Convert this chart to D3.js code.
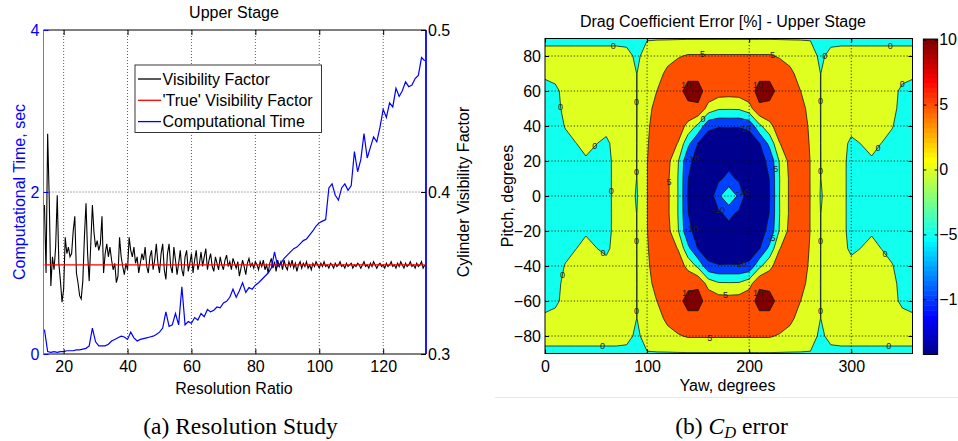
<!DOCTYPE html>
<html>
<head>
<meta charset="utf-8">
<script src="https://cdn.jsdelivr.net/npm/d3@7"></script>
<style>
  html, body { margin: 0; padding: 0; background: #fff; }
  svg { display: block; font-family: "Liberation Sans", Arial, sans-serif; }
</style>
</head>
<body>
<svg id="fig" width="958" height="441"></svg>
<script>
// ---------------- Resolution study data ----------------
// visibility factor is sampled every half step of the resolution ratio
const visibilityRatio = [
  14,14.5,15,15.5,16,16.5,17,17.5,18,18.5,
  19,19.5,20,20.5,21,21.5,22,22.5,23,23.5,
  24,24.5,25,25.5,26,26.5,27,27.5,28,28.5,
  29,29.5,30,30.5,31,31.5,32,32.5,33,33.5,
  34,34.5,35,35.5,36,36.5,37,37.5,38,38.5,
  39,39.5,40,40.5,41,41.5,42,42.5,43,43.5,
  44,44.5,45,45.5,46,46.5,47,47.5,48,48.5,
  49,49.5,50,50.5,51,51.5,52,52.5,53,53.5,
  54,54.5,55,55.5,56,56.5,57,57.5,58,58.5,
  59,59.5,60,60.5,61,61.5,62,62.5,63,63.5,
  64,64.5,65,65.5,66,66.5,67,67.5,68,68.5,
  69,69.5,70,70.5,71,71.5,72,72.5,73,73.5,
  74,74.5,75,75.5,76,76.5,77,77.5,78,78.5,
  79,79.5,80,80.5,81,81.5,82,82.5,83,83.5,
  84,84.5,85,85.5,86,86.5,87,87.5,88,88.5,
  89,89.5,90,90.5,91,91.5,92,92.5,93,93.5,
  94,94.5,95,95.5,96,96.5,97,97.5,98,98.5,
  99,99.5,100,100.5,101,101.5,102,102.5,103,103.5,
  104,104.5,105,105.5,106,106.5,107,107.5,108,108.5,
  109,109.5,110,110.5,111,111.5,112,112.5,113,113.5,
  114,114.5,115,115.5,116,116.5,117,117.5,118,118.5,
  119,119.5,120,120.5,121,121.5,122,122.5,123,123.5,
  124,124.5,125,125.5,126,126.5,127,127.5,128,128.5,
  129,129.5,130,130.5,131,131.5,132,132.5,133
];
const visibilityFactor = [
  0.392,0.350,0.436,0.395,0.342,0.360,0.352,0.366,0.398,0.356,
  0.345,0.332,0.340,0.372,0.362,0.366,0.360,0.362,0.376,0.385,
  0.350,0.344,0.336,0.334,0.345,0.372,0.393,0.362,0.345,0.368,
  0.392,0.375,0.366,0.370,0.364,0.368,0.385,0.350,0.362,0.368,
  0.360,0.366,0.358,0.352,0.356,0.344,0.348,0.372,0.360,0.354,
  0.349,0.356,0.352,0.372,0.364,0.360,0.366,0.356,0.360,0.350,
  0.356,0.362,0.358,0.366,0.354,0.350,0.360,0.364,0.352,0.358,
  0.368,0.356,0.350,0.362,0.368,0.352,0.346,0.362,0.368,0.354,
  0.350,0.366,0.358,0.349,0.356,0.364,0.352,0.348,0.360,0.364,
  0.351,0.356,0.362,0.350,0.358,0.364,0.352,0.356,0.363,0.354,
  0.360,0.365,0.352,0.358,0.362,0.354,0.351,0.360,0.356,0.352,
  0.360,0.355,0.352,0.358,0.361,0.354,0.357,0.352,0.359,0.356,
  0.353,0.357,0.348,0.353,0.358,0.354,0.349,0.356,0.359,0.354,
  0.356,0.353,0.357,0.355,0.352,0.357,0.354,0.358,0.352,0.355,
  0.350,0.356,0.359,0.353,0.357,0.351,0.358,0.354,0.357,0.352,
  0.358,0.354,0.352,0.357,0.354,0.358,0.353,0.356,0.351,0.355,
  0.357,0.353,0.356,0.354,0.357,0.353,0.355,0.352,0.356,0.354,
  0.357,0.355,0.353,0.356,0.354,0.357,0.354,0.355,0.353,0.356,
  0.355,0.353,0.356,0.354,0.355,0.357,0.354,0.355,0.353,0.356,
  0.354,0.355,0.356,0.353,0.355,0.354,0.356,0.355,0.353,0.355,
  0.357,0.354,0.355,0.353,0.356,0.354,0.357,0.355,0.353,0.355,
  0.356,0.354,0.355,0.353,0.356,0.354,0.355,0.357,0.354,0.355,
  0.353,0.356,0.354,0.357,0.355,0.353,0.356,0.354,0.355,0.357,
  0.354,0.355,0.353,0.356,0.354,0.355,0.357,0.353,0.355
];
// computational time is sampled every step of the resolution ratio
const timeRatio = [
  14,15,16,17,18,19,20,21,22,23,
  24,25,26,27,28,29,30,31,32,33,
  34,35,36,37,38,39,40,41,42,43,
  44,45,46,47,48,49,50,51,52,53,
  54,55,56,57,58,59,60,61,62,63,
  64,65,66,67,68,69,70,71,72,73,
  74,75,76,77,78,79,80,81,82,83,
  84,85,86,87,88,89,90,91,92,93,
  94,95,96,97,98,99,100,101,102,103,
  104,105,106,107,108,109,110,111,112,113,
  114,115,116,117,118,119,120,121,122,123,
  124,125,126,127,128,129,130,131,132,133
];
const computationalTime = [
  0.30,0.03,0.02,0.03,0.02,0.03,0.03,0.04,0.04,0.04,
  0.05,0.05,0.06,0.07,0.10,0.32,0.15,0.10,0.10,0.10,
  0.12,0.16,0.18,0.20,0.22,0.21,0.18,0.27,0.20,0.16,
  0.18,0.19,0.20,0.21,0.22,0.24,0.27,0.32,0.52,0.34,
  0.36,0.50,0.36,0.83,0.36,0.40,0.38,0.45,0.42,0.50,
  0.46,0.55,0.52,0.54,0.58,0.57,0.63,0.65,0.70,0.80,
  0.70,0.78,0.88,0.76,0.82,0.80,0.85,0.88,0.92,0.96,
  1.00,1.06,1.26,1.08,1.12,1.18,1.22,1.26,1.30,1.32,
  1.36,1.40,1.42,1.47,1.52,1.58,1.62,1.64,1.66,2.05,
  2.10,1.96,1.90,2.05,2.10,2.02,2.08,2.50,2.25,2.40,
  2.72,2.42,2.55,2.68,2.62,2.80,3.02,2.92,3.10,3.05,
  3.28,3.18,3.25,3.36,3.30,3.32,3.40,3.44,3.66,3.62
];
const trueVisibilityFactor = 0.355;
const ratioTicks = [20, 40, 60, 80, 100, 120];
const timeTicks = [0, 2, 4];
const visibilityTicks = [0.3, 0.4, 0.5];
const legendLabels = ["Visibility Factor", "'True' Visibility Factor", "Computational Time"];

// ---------------- Drag coefficient error grid (rows: pitch 90 -> -90, cols: yaw 0 -> 360) ----------------
const yawGrid = [0,10,20,30,40,50,60,70,80,90,100,110,120,130,140,150,160,170,180,
                 190,200,210,220,230,240,250,260,270,280,290,300,310,320,330,340,350,360];
const pitchGrid = [90,80,70,60,50,40,30,20,10,0,-10,-20,-30,-40,-50,-60,-70,-80,-90];
const cdError = [
  [-1.5,-1.5,-1.5,-1.5,-1.5,-1.5,-1.5,-1.5,-1.5,-1.5,-0.3,-0.3,-0.3,-0.3,-0.3,-0.3,-0.3,-0.3,-0.3,-0.3,-0.3,-0.3,-0.3,-0.3,-0.3,-0.3,-0.3,-1.5,-1.5,-1.5,-1.5,-1.5,-1.5,-1.5,-1.5,-1.5,-1.5],
  [2,2,2,2,2,2,2,2,1.5,-1,2,3,3.5,4.5,5.5,5.5,5.5,5.5,5.5,5.5,5.5,5.5,5.5,4.5,3.5,3,2,-1,1.5,2,2,2,2,2,2,2,2],
  [1,1.5,2,2,2,2,2,2,2,-0.05,3,3.5,6,8,9.2,9.2,8.5,8.2,8,8.2,8.5,9.2,9.2,8,6,3.5,3,-0.05,2,2,2,2,2,2,2,1.5,1],
  [-2,-1,1.5,2,2,2,2,2,2,-0.05,3,5.1,8,9,11,11,8.8,7.5,7.2,7.5,8.8,11,11,9,8,5.1,3,-0.05,2,2,2,2,2,2,1.5,-1,-2],
  [-2,-1.2,1,2,2,2,2,2,2,-0.05,2.3,8,8.5,8.5,9.2,9.5,3,0.6,0.5,0.6,3,9.5,9.2,8.5,8.5,8,2.3,-0.05,2,2,2,2,2,2,1,-1.2,-2],
  [-2,-1.5,0.2,1.5,1.5,1,1.2,2,2,-0.05,4,8,8,8,3.5,-1.2,-8.8,-9.6,-9.5,-9.6,-8.8,-1.2,3.5,8,8,8,4,-0.05,2,2,1.2,1,1.5,1.5,0.2,-1.5,-2],
  [-2,-1.8,-1,-0.1,1,0.1,-0.8,1.5,2,-0.05,4.55,8,7,4.9,-3.6,-10.3,-13,-14,-14.2,-14,-13,-10.3,-3.6,4.9,7,8,4.55,-0.05,2,1.5,-0.8,0.1,1,-0.1,-1,-1.8,-2],
  [-2,-2,-1.8,-1.5,-0.4,-1.2,-1,1,1.5,-0.05,4.88,8,6.5,0.7,-9.1,-11.4,-13.5,-13,-12,-13,-13.5,-11.4,-9.1,0.7,6.5,8,4.88,-0.05,1.5,1,-1,-1.2,-0.4,-1.5,-1.8,-2,-2],
  [-2,-2,-2,-1.8,-1.5,-1.2,-1,1,1.5,-0.05,4.88,8,5.9,0.1,-9.8,-14,-14,-11,-8.5,-11,-14,-14,-9.8,0.1,5.9,8,4.88,-0.05,1.5,1,-1,-1.2,-1.5,-1.8,-2,-2,-2],
  [-2,-2,-2,-1.8,-1.5,-1.2,-1,1,1.5,-0.3,4.9,8,5.9,0.2,-10.1,-14,-14,-6,-1,-6,-14,-14,-10.1,0.2,5.9,8,4.9,-0.3,1.5,1,-1,-1.2,-1.5,-1.8,-2,-2,-2],
  [-2,-2,-2,-1.8,-1.5,-1.2,-1,1,1.5,-0.05,4.88,8,5.9,0.1,-9.8,-14,-14,-11,-8.5,-11,-14,-14,-9.8,0.1,5.9,8,4.88,-0.05,1.5,1,-1,-1.2,-1.5,-1.8,-2,-2,-2],
  [-2,-2,-1.8,-1.5,-0.4,-1.2,-1,1,1.5,-0.05,4.88,8,6.5,0.7,-9.1,-11.4,-13.5,-13,-12,-13,-13.5,-11.4,-9.1,0.7,6.5,8,4.88,-0.05,1.5,1,-1,-1.2,-0.4,-1.5,-1.8,-2,-2],
  [-2,-1.8,-1,-0.1,1,0.1,-0.8,1.5,2,-0.05,4.55,8,7,4.9,-3.6,-10.3,-13,-14,-14.2,-14,-13,-10.3,-3.6,4.9,7,8,4.55,-0.05,2,1.5,-0.8,0.1,1,-0.1,-1,-1.8,-2],
  [-2,-1.5,0.2,1.5,1.5,1,1.2,2,2,-0.05,4,8,8,8,3.5,-1.2,-8.8,-9.6,-9.5,-9.6,-8.8,-1.2,3.5,8,8,8,4,-0.05,2,2,1.2,1,1.5,1.5,0.2,-1.5,-2],
  [-2,-1.2,1,2,2,2,2,2,2,-0.05,2.3,8,8.5,8.5,9.2,9.5,3,0.6,0.5,0.6,3,9.5,9.2,8.5,8.5,8,2.3,-0.05,2,2,2,2,2,2,1,-1.2,-2],
  [-2,-1,1.5,2,2,2,2,2,2,-0.05,3,5.1,8,9,11,11,8.8,7.5,7.2,7.5,8.8,11,11,9,8,5.1,3,-0.05,2,2,2,2,2,2,1.5,-1,-2],
  [1,1.5,2,2,2,2,2,2,2,-0.05,3,3.5,6,8,9.2,9.2,8.5,8.2,8,8.2,8.5,9.2,9.2,8,6,3.5,3,-0.05,2,2,2,2,2,2,2,1.5,1],
  [2,2,2,2,2,2,2,2,1.5,-1,2,3,3.5,4.5,5.5,5.5,5.5,5.5,5.5,5.5,5.5,5.5,5.5,4.5,3.5,3,2,-1,1.5,2,2,2,2,2,2,2,2],
  [-1.5,-1.5,-1.5,-1.5,-1.5,-1.5,-1.5,-1.5,-1.5,-1.5,-0.3,-0.3,-0.3,-0.3,-0.3,-0.3,-0.3,-0.3,-0.3,-0.3,-0.3,-0.3,-0.3,-0.3,-0.3,-0.3,-0.3,-1.5,-1.5,-1.5,-1.5,-1.5,-1.5,-1.5,-1.5,-1.5,-1.5]
];
const contourLevels = [-10, -5, 0, 5, 10];
const colorLimits = [-14.25, 10.05];
const yawTicks = [0, 100, 200, 300];
const pitchTicks = [-80, -60, -40, -20, 0, 20, 40, 60, 80];
const colorbarTicks = [-10, -5, 0, 5, 10];

const svg = d3.select("#fig");
const FONT = '"Liberation Sans", Arial, sans-serif';
const SERIF = '"Liberation Serif", "Times New Roman", serif';

// ======================= Left panel: resolution study =======================
const L = { x0: 43.5, x1: 426, y0: 30, y1: 354 };
const xRatio = d3.scaleLinear().domain([13.7, 133.4]).range([L.x0, L.x1]);
const yTime = d3.scaleLinear().domain([0, 4]).range([L.y1, L.y0]);
const yVis = d3.scaleLinear().domain([0.3, 0.5]).range([L.y1, L.y0]);

const left = svg.append("g");

// dotted grid
left.append("g").selectAll("line").data(ratioTicks).join("line")
  .attr("x1", d => xRatio(d)).attr("x2", d => xRatio(d))
  .attr("y1", L.y0).attr("y2", L.y1)
  .attr("stroke", "#333").attr("stroke-width", 0.8).attr("stroke-dasharray", "1,2");
left.append("g").selectAll("line").data(timeTicks.slice(1, -1)).join("line")
  .attr("x1", L.x0).attr("x2", L.x1)
  .attr("y1", d => yTime(d)).attr("y2", d => yTime(d))
  .attr("stroke", "#333").attr("stroke-width", 0.8).attr("stroke-dasharray", "1,2");

const visRows = visibilityRatio.map((r, i) => ({ r, v: visibilityFactor[i] }));
const timeRows = timeRatio.map((r, i) => ({ r, t: computationalTime[i] }));

left.append("path").datum(visRows)
  .attr("fill", "none").attr("stroke", "#000").attr("stroke-width", 1.1)
  .attr("d", d3.line().x(d => xRatio(d.r)).y(d => yVis(d.v)));
left.append("path").datum(visRows)
  .attr("fill", "none").attr("stroke", "#ff0000").attr("stroke-width", 1.4)
  .attr("d", d3.line().x(d => xRatio(d.r)).y(() => yVis(trueVisibilityFactor)));
left.append("path").datum(timeRows)
  .attr("fill", "none").attr("stroke", "#0000ff").attr("stroke-width", 1.2)
  .attr("d", d3.line().x(d => xRatio(d.r)).y(d => yTime(d.t)));

// frame
left.append("line").attr("x1", L.x0).attr("x2", L.x1).attr("y1", L.y0).attr("y2", L.y0).attr("stroke", "#000");
left.append("line").attr("x1", L.x0).attr("x2", L.x1).attr("y1", L.y1).attr("y2", L.y1).attr("stroke", "#000");
left.append("line").attr("x1", L.x0).attr("x2", L.x0).attr("y1", L.y0).attr("y2", L.y1).attr("stroke", "#6f6fff");
left.append("line").attr("x1", L.x1).attr("x2", L.x1).attr("y1", L.y0).attr("y2", L.y1).attr("stroke", "#0000ff").attr("stroke-width", 1.8);

function styleAxis(g, color) {
  g.select(".domain").remove();
  g.selectAll(".tick line").attr("stroke", color);
  g.selectAll(".tick text").attr("fill", color).style("font-family", FONT).style("font-size", "16px");
}
left.append("g").attr("transform", `translate(0,${L.y1})`)
  .call(d3.axisBottom(xRatio).tickValues(ratioTicks).tickSize(-5).tickPadding(7))
  .call(g => styleAxis(g, "#000"));
left.append("g").attr("transform", `translate(0,${L.y0})`)
  .call(d3.axisTop(xRatio).tickValues(ratioTicks).tickSize(-5).tickFormat(""))
  .call(g => styleAxis(g, "#000"));
left.append("g").attr("transform", `translate(${L.x0},0)`)
  .call(d3.axisLeft(yTime).tickValues(timeTicks).tickSize(-5).tickPadding(4).tickFormat(d3.format("d")))
  .call(g => styleAxis(g, "#0000ff"));
left.append("g").attr("transform", `translate(${L.x1},0)`)
  .call(d3.axisRight(yVis).tickValues(visibilityTicks).tickSize(-5).tickPadding(2).tickFormat(d3.format(".1f")))
  .call(g => styleAxis(g, "#000"));

// titles
left.append("text").attr("x", 234).attr("y", 17.5).attr("text-anchor", "middle")
  .style("font-size", "16px").text("Upper Stage");
left.append("text").attr("x", 234).attr("y", 394).attr("text-anchor", "middle")
  .style("font-size", "16px").text("Resolution Ratio");
left.append("text").attr("transform", "translate(24.5,192) rotate(-90)").attr("text-anchor", "middle")
  .attr("fill", "#0000ff").style("font-size", "16px").text("Computational Time, sec");
left.append("text").attr("transform", "translate(468.5,192) rotate(-90)").attr("text-anchor", "middle")
  .style("font-size", "16px").text("Cylinder Visibility Factor");

// legend
const legend = left.append("g");
legend.append("rect").attr("x", 135).attr("y", 65).attr("width", 186.5).attr("height", 67.5)
  .attr("fill", "#fff").attr("stroke", "#222").attr("stroke-width", 0.9);
const legendColors = ["#000", "#ff0000", "#0000ff"];
legendLabels.forEach((lab, i) => {
  const cy = 79 + i * 21.3;
  legend.append("line").attr("x1", 138).attr("x2", 161).attr("y1", cy).attr("y2", cy)
    .attr("stroke", legendColors[i]).attr("stroke-width", 1.3);
  legend.append("text").attr("x", 162.5).attr("y", cy + 5.8).style("font-size", "16px").text(lab);
});

svg.append("text").attr("x", 240.5).attr("y", 433.5).attr("text-anchor", "middle")
  .style("font-family", SERIF).style("font-size", "23.5px").text("(a) Resolution Study");

// ======================= Right panel: drag coefficient error =======================
const R = { x0: 545, x1: 912.5, y0: 38.5, y1: 353.5 };
const xYaw = d3.scaleLinear().domain([0, 360]).range([R.x0, R.x1]);
const yPitch = d3.scaleLinear().domain([-90, 90]).range([R.y1, R.y0]);

// MATLAB-style 64 entry jet colour map
function jetEntry(i) { // i in 1..64
  const u = j => (j >= 1 && j <= 16) ? j / 16 : (j >= 17 && j <= 31) ? 1 : (j >= 32 && j <= 47) ? (48 - j) / 16 : 0;
  return d3.rgb(Math.round(u(i - 24) * 255), Math.round(u(i - 8) * 255), Math.round(u(i + 8) * 255)).formatHex();
}
function jetColor(v) {
  const f = (v - colorLimits[0]) / (colorLimits[1] - colorLimits[0]);
  const idx = Math.max(0, Math.min(63, Math.floor(f * 64)));
  return jetEntry(idx + 1);
}

const nx = yawGrid.length, ny = pitchGrid.length;
const gx = d3.scaleLinear().domain([0.5, nx - 0.5]).range([xYaw(yawGrid[0]), xYaw(yawGrid[nx - 1])]);
const gy = d3.scaleLinear().domain([0.5, ny - 0.5]).range([yPitch(pitchGrid[0]), yPitch(pitchGrid[ny - 1])]);
const gridPath = d3.geoPath(d3.geoTransform({ point(x, y) { this.stream.point(gx(x), gy(y)); } }));

const contourSet = d3.contours().size([nx, ny]).thresholds(contourLevels)(cdError.flat());

svg.append("defs").append("clipPath").attr("id", "plotClip")
  .append("rect").attr("x", R.x0).attr("y", R.y0).attr("width", R.x1 - R.x0).attr("height", R.y1 - R.y0);

const right = svg.append("g");
const field = right.append("g").attr("clip-path", "url(#plotClip)");
field.append("rect").attr("x", R.x0).attr("y", R.y0).attr("width", R.x1 - R.x0).attr("height", R.y1 - R.y0)
  .attr("fill", jetColor(colorLimits[0]));
field.selectAll("path.band").data(contourSet).join("path").attr("class", "band")
  .attr("d", gridPath)
  .attr("fill", d => jetColor(d.value))
  .attr("stroke", "#111").attr("stroke-width", 0.75).attr("stroke-linejoin", "round");

// contour labels along the level lines
const placed = [];
contourSet.forEach(c => {
  c.coordinates.forEach(poly => poly.forEach(ring => {
    const pts = ring.map(([x, y]) => [gx(x), gy(y)]);
    let acc = 0, next = 25;
    for (let k = 1; k < pts.length; k++) {
      const [x0, y0] = pts[k - 1], [x1, y1] = pts[k];
      const seg = Math.hypot(x1 - x0, y1 - y0);
      while (seg > 0 && acc + seg >= next) {
        const f = (next - acc) / seg;
        const px = x0 + f * (x1 - x0), py = y0 + f * (y1 - y0);
        const inside = px > R.x0 + 4 && px < R.x1 - 4 && py > R.y0 + 4 && py < R.y1 - 4;
        if (inside && placed.every(q => Math.hypot(q[0] - px, q[1] - py) > 30)) placed.push([px, py, c.value]);
        next += 70;
      }
      acc += seg;
    }
  }));
});
field.selectAll("text.clabel").data(placed).join("text").attr("class", "clabel")
  .attr("x", d => d[0]).attr("y", d => d[1] + 3)
  .attr("text-anchor", "middle").attr("fill", "#222")
  .style("font-size", "9px").text(d => String(d[2]));

// dotted grid
right.append("g").selectAll("line").data(yawTicks.filter(d => d > 0)).join("line")
  .attr("x1", d => xYaw(d)).attr("x2", d => xYaw(d)).attr("y1", R.y0).attr("y2", R.y1)
  .attr("stroke", "#000").attr("stroke-width", 0.8).attr("stroke-dasharray", "1.2,2");
right.append("g").selectAll("line").data(pitchTicks).join("line")
  .attr("x1", R.x0).attr("x2", R.x1).attr("y1", d => yPitch(d)).attr("y2", d => yPitch(d))
  .attr("stroke", "#000").attr("stroke-width", 0.8).attr("stroke-dasharray", "1.2,2");

right.append("rect").attr("x", R.x0).attr("y", R.y0).attr("width", R.x1 - R.x0).attr("height", R.y1 - R.y0)
  .attr("fill", "none").attr("stroke", "#000").attr("stroke-width", 1);

right.append("g").attr("transform", `translate(0,${R.y1})`)
  .call(d3.axisBottom(xYaw).tickValues(yawTicks).tickSize(-4).tickPadding(7))
  .call(g => styleAxis(g, "#000"));
right.append("g").attr("transform", `translate(0,${R.y0})`)
  .call(d3.axisTop(xYaw).tickValues(yawTicks).tickSize(-4).tickFormat(""))
  .call(g => styleAxis(g, "#000"));
right.append("g").attr("transform", `translate(${R.x0},0)`)
  .call(d3.axisLeft(yPitch).tickValues(pitchTicks).tickSize(-4).tickPadding(4))
  .call(g => styleAxis(g, "#000"));
right.append("g").attr("transform", `translate(${R.x1},0)`)
  .call(d3.axisRight(yPitch).tickValues(pitchTicks).tickSize(-4).tickFormat(""))
  .call(g => styleAxis(g, "#000"));

right.append("text").attr("x", 723).attr("y", 26.5).attr("text-anchor", "middle")
  .style("font-size", "16px").text("Drag Coefficient Error [%] - Upper Stage");
right.append("text").attr("x", 727.5).attr("y", 390.5).attr("text-anchor", "middle")
  .style("font-size", "16px").text("Yaw, degrees");
right.append("text").attr("transform", "translate(512.5,196) rotate(-90)").attr("text-anchor", "middle")
  .style("font-size", "16px").text("Pitch, degrees");

// colour bar
const CB = { x0: 923.3, x1: 937.7 };
const yBar = d3.scaleLinear().domain(colorLimits).range([354.5, 39]);
const bandIdx = d3.range(1, 65);
const bandH = (yBar(colorLimits[0]) - yBar(colorLimits[1])) / 64;
right.append("g").selectAll("rect").data(bandIdx).join("rect")
  .attr("x", CB.x0).attr("width", CB.x1 - CB.x0)
  .attr("y", i => yBar(colorLimits[0]) - i * bandH).attr("height", bandH + 0.5)
  .attr("fill", i => jetEntry(i));
right.append("rect").attr("x", CB.x0).attr("y", yBar(colorLimits[1])).attr("width", CB.x1 - CB.x0)
  .attr("height", yBar(colorLimits[0]) - yBar(colorLimits[1])).attr("fill", "none").attr("stroke", "#000").attr("stroke-width", 0.9);
right.append("g").attr("transform", `translate(${CB.x1},0)`)
  .call(d3.axisRight(yBar).tickValues(colorbarTicks).tickSize(-3).tickPadding(1.5))
  .call(g => styleAxis(g, "#000"));
right.append("g").attr("transform", `translate(${CB.x0},0)`)
  .call(d3.axisLeft(yBar).tickValues(colorbarTicks).tickSize(-3).tickFormat(""))
  .call(g => styleAxis(g, "#000"));

// faint separator under the figure
svg.append("line").attr("x1", 495).attr("x2", 958).attr("y1", 397.5).attr("y2", 397.5)
  .attr("stroke", "#e8e8e8").attr("stroke-width", 1);

// caption with subscripted C_D
const cap = svg.append("text").attr("x", 731.5).attr("y", 433.5).attr("text-anchor", "middle")
  .style("font-family", SERIF).style("font-size", "23.5px");
cap.append("tspan").text("(b) ");
cap.append("tspan").style("font-style", "italic").text("C");
cap.append("tspan").style("font-style", "italic").style("font-size", "16.5px").attr("dy", 4).text("D");
cap.append("tspan").attr("dy", -4).text(" error");
</script>
</body>
</html>
